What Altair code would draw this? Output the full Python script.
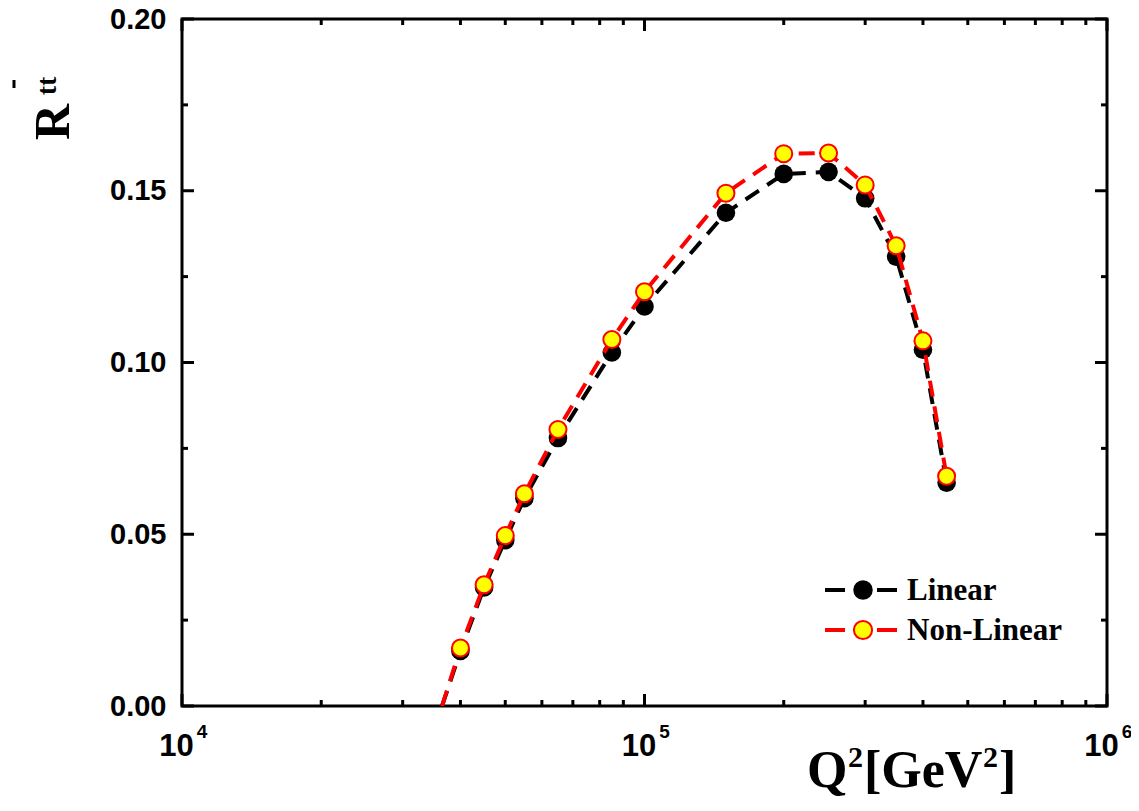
import altair as alt
import pandas as pd

# ---- data ----
q2 = [40000, 45000, 50000, 55000, 65000, 85000, 100000, 150000,
      200000, 250000, 300000, 350000, 400000, 450000]
linear = [0.0160, 0.0345, 0.0483, 0.0605, 0.0780, 0.1029, 0.1163, 0.1436,
          0.1549, 0.1555, 0.1478, 0.1308, 0.1037, 0.0650]
nonlinear = [0.0169, 0.0353, 0.0496, 0.0618, 0.0805, 0.1067, 0.1206, 0.1493,
             0.1608, 0.1610, 0.1517, 0.1340, 0.1063, 0.0669]
# the dashed curves continue down to the zero crossing
zero_q2 = 36500
zero_val = 0.0

x_major = [1e4, 1e5, 1e6]
x_major_exp = ["4", "5", "6"]
x_minor = [2e4, 3e4, 4e4, 5e4, 6e4, 7e4, 8e4, 9e4,
           2e5, 3e5, 4e5, 5e5, 6e5, 7e5, 8e5, 9e5]
y_major = [0.0, 0.05, 0.10, 0.15, 0.20]
y_minor = [0.025, 0.075, 0.125, 0.175]
legend_labels = ["Linear", "Non-Linear"]

W, H = 925, 687
SERIF = "Liberation Serif"
SANS = "Liberation Sans"

df_pts = pd.DataFrame({"q2": q2, "linear": linear, "nonlinear": nonlinear})
df_line = pd.DataFrame({"q2": [zero_q2] + q2,
                        "linear": [zero_val] + linear,
                        "nonlinear": [zero_val] + nonlinear})

xscale = alt.Scale(type="log", domain=[1e4, 1e6], nice=False)
yscale = alt.Scale(domain=[0, 0.2], nice=False)

x_axis = alt.Axis(values=x_major, labelExpr="'10'", labelOffset=-6,
                  ticks=False, domain=False, grid=False, labelFlush=False,
                  labelFont=SANS, labelFontWeight="bold", labelFontSize=31,
                  labelColor="black", labelBaseline="alphabetic", labelPadding=49,
                  title=None, labelOverlap=False)
y_axis = alt.Axis(values=y_major, format=".2f", ticks=False, domain=False,
                  grid=False, labelFont=SANS, labelFontWeight="bold",
                  labelFontSize=29, labelColor="black", labelPadding=16,
                  title=None, labelOverlap=False)

X = lambda f: alt.X(f, scale=xscale, axis=x_axis)
Y = lambda f: alt.Y(f, scale=yscale, axis=y_axis)

base_line = alt.Chart(df_line)
base_pts = alt.Chart(df_pts)

line_lin = base_line.mark_line(color="black", strokeWidth=4, strokeDash=[16, 10], clip=True).encode(
    x=X("q2:Q"), y=Y("linear:Q"))
pts_lin = base_pts.mark_point(shape="circle", filled=True, color="black", opacity=1, size=346).encode(
    x=X("q2:Q"), y=Y("linear:Q"))
line_nl = base_line.mark_line(color="#FF0000", strokeWidth=4, strokeDash=[16, 10], clip=True).encode(
    x=X("q2:Q"), y=Y("nonlinear:Q"))
pts_nl = base_pts.mark_point(shape="circle", filled=True, fill="#FFFF00", stroke="#FF0000",
                             strokeWidth=2, opacity=1, size=290).encode(
    x=X("q2:Q"), y=Y("nonlinear:Q"))

# exponent of the decade labels (10^4, 10^5, 10^6)
sup = alt.Chart(pd.DataFrame({"q2": x_major, "exp": x_major_exp})).mark_text(
    align="center", baseline="alphabetic", dx=20, font=SANS, fontWeight="bold",
    fontSize=19, color="black").encode(x=X("q2:Q"), y=alt.value(H + 32), text="exp:N")

# ---- inward ticks ----
def xticks(vals, y0, y1):
    return alt.Chart(pd.DataFrame({"q2": vals})).mark_rule(color="black", strokeWidth=3).encode(
        x=X("q2:Q"), y=alt.value(y0), y2=alt.value(y1))

def yticks(vals, x0, x1):
    return alt.Chart(pd.DataFrame({"linear": vals})).mark_rule(color="black", strokeWidth=3).encode(
        y=Y("linear:Q"), x=alt.value(x0), x2=alt.value(x1))

ticks = [xticks(x_major, H, H - 12), xticks(x_minor, H, H - 6),
         xticks(x_major, 0, 12), xticks(x_minor, 0, 6),
         yticks(y_major, 0, 12), yticks(y_minor, 0, 6),
         yticks(y_major, W, W - 12), yticks(y_minor, W, W - 6)]

# ---- legend ----
one = pd.DataFrame({"a": [0]})
leg = []
for i, (lab, col, fill, sz) in enumerate([(legend_labels[0], "black", "black", 380),
                                          (legend_labels[1], "#FF0000", "#FFFF00", 330)]):
    yy = 571 + 40 * i
    leg.append(alt.Chart(one).mark_rule(color=col, strokeWidth=4, strokeDash=[20, 32, 20]).encode(
        x=alt.value(643), x2=alt.value(715), y=alt.value(yy)))
    leg.append(alt.Chart(one).mark_point(shape="circle", filled=True, fill=fill, stroke=col,
                                         strokeWidth=2 if i else 0, opacity=1, size=sz).encode(
        x=alt.value(681), y=alt.value(yy)))
    leg.append(alt.Chart(one).mark_text(align="left", baseline="middle", font=SERIF,
                                        fontWeight="bold", fontSize=31, color="black").encode(
        x=alt.value(725), y=alt.value(yy + 1), text=alt.value(lab)))

# ---- x title  Q^2[GeV^2] built from pieces ----
def txt(s, x, y, size, align="left"):
    return alt.Chart(one).mark_text(align=align, baseline="alphabetic", font=SERIF,
                                    fontWeight="bold", fontSize=size, color="black").encode(
        x=alt.value(x), y=alt.value(y), text=alt.value(s))

XB = 768          # baseline of the x title (plot coords)
XS = XB - 20      # baseline of its superscripts
xtitle = [txt("Q", 625, XB, 52), txt("2", 666, XS, 30), txt("[GeV", 682, XB, 52),
          txt("2", 801, XS, 30), txt("]", 817, XB, 52)]

ytitle_r = alt.Chart(one).mark_text(align="center", baseline="alphabetic", font=SERIF,
                                    fontWeight="bold", fontSize=50, angle=270, color="black").encode(
    x=alt.value(-113), y=alt.value(103), text=alt.value("R"))
ytitle_sup = alt.Chart(one).mark_text(align="center", baseline="alphabetic", font=SERIF,
                                      fontWeight="bold", fontSize=28, angle=270, color="black").encode(
    x=alt.value(-126), y=alt.value(67), text=alt.value("tt"))
ytitle_bar = alt.Chart(one).mark_rule(color="black", strokeWidth=3).encode(
    x=alt.value(-168), y=alt.value(61), y2=alt.value(69))

chart = alt.layer(
    line_lin, pts_lin, line_nl, pts_nl, sup, *ticks, *leg, *xtitle,
    ytitle_r, ytitle_sup, ytitle_bar
).properties(
    width=W, height=H,
    autosize=alt.AutoSizeParams(type="none"),
    padding={"left": 174, "top": 11, "right": 24, "bottom": 92},
    background="white",
).configure_view(stroke="black", strokeWidth=3)

chart.save("out.html", embed_options={"renderer": "svg", "actions": False})
